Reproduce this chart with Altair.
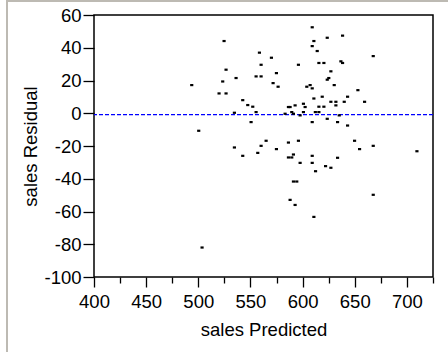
import altair as alt
import pandas as pd

# values
predicted = [493.7, 500.4, 503.6, 524.7, 526.6, 523.4, 519.9, 526.6, 536.2, 534.6,
             534.6, 542.6, 542.6, 547.4, 552.2, 550.6, 555.4, 555.4, 560.2, 558.6,
             560.2, 557.0, 560.2, 565.0, 570.1, 574.9, 571.7, 576.5, 574.9, 583.2,
             586.4, 588.0, 589.6, 591.2, 592.8, 586.4, 586.4, 589.6, 591.2, 591.2,
             594.4, 588.0, 592.8, 596.0, 597.6, 596.0, 597.6, 600.8, 602.4, 600.8,
             604.0, 607.2, 609.2, 609.2, 610.8, 609.2, 614.0, 615.6, 620.4, 610.8,
             618.8, 615.6, 620.4, 612.2, 615.6, 609.2, 609.2, 609.2, 612.4, 610.8,
             622.0, 627.1, 623.6, 623.6, 627.1, 625.1, 623.6, 630.3, 627.1, 631.9,
             631.9, 633.5, 635.1, 633.5, 636.7, 638.3, 638.3, 639.9, 643.1, 643.1,
             649.8, 654.6, 653.0, 659.4, 667.7, 667.7, 667.7, 709.6]
residual = [17.2, -10.7, -82.0, 44.1, 26.6, 19.4, 12.1, 12.1, 21.5, 0.3,
            -20.9, 8.0, -26.0, 5.0, 4.0, -5.4, 0.7, 22.5, 22.5, 37.0,
            29.6, -24.2, -19.9, -16.8, 33.9, 24.5, 18.4, 16.2, -21.9, -0.3,
            3.8, 3.8, 0.7, -0.3, 4.8, -17.9, -27.0, -27.0, -25.2, -41.7,
            -41.7, -52.9, -56.0, -16.8, -30.3, 29.6, -1.3, 5.8, 3.8, 0.7,
            16.2, 17.2, 15.2, 52.5, 44.1, 41.0, 38.0, 30.7, 30.7, 9.0,
            10.1, 4.0, 4.0, 0.7, 0.7, -5.4, -26.0, -30.3, -35.4, -63.3,
            -32.3, -33.3, -3.4, 46.1, 25.6, 21.5, 20.5, 17.2, 7.0, 7.0,
            4.8, -5.4, -1.3, -27.2, 31.7, 30.7, 47.4, 7.0, 10.1, -7.5,
            -16.8, -21.9, 14.1, 7.0, 34.9, -19.9, -49.8, -23.2]
residual_mean = [-0.8]

x_ticks = [400, 425, 450, 475, 500, 525, 550, 575, 600, 625, 650, 675, 700, 725]
y_ticks = [-100, -80, -60, -40, -20, 0, 20, 40, 60]

FONT = "Liberation Sans"
FS = 18.5
W, H = 339, 262
PAD_L, PAD_T = 94, 15

df = pd.DataFrame({"pred": predicted, "res": residual})
mean_df = pd.DataFrame({"m": residual_mean})

x_scale = alt.Scale(domain=[400, 725], nice=False, zero=False)
y_scale = alt.Scale(domain=[-100, 60], nice=False, zero=False)

x_axis = alt.Axis(
    title="sales Predicted", values=x_ticks,
    labelExpr="datum.value % 50 == 0 ? datum.label : ''",
    tickSize={"condition": {"test": "datum.value % 50 == 0", "value": 10}, "value": 6},
    tickColor="black", tickWidth=1.3, domain=False, grid=False,
    labelFont=FONT, labelFontSize=FS, labelColor="black", labelPadding=5,
    labelFlush=False, labelOverlap=False, labelBound=False,
    titleFont=FONT, titleFontSize=FS, titleFontWeight="normal", titleColor="black",
    titlePadding=10,
)
y_axis = alt.Axis(
    title="sales Residual", values=y_ticks,
    labelExpr="datum.value < 0 ? '-' + abs(datum.value) : '' + datum.value",
    tickSize=11, tickColor="black", tickWidth=1.3, domain=False, grid=False,
    labelFont=FONT, labelFontSize=FS, labelColor="black", labelPadding=2,
    labelFlush=False, labelOverlap=False, labelBound=False,
    titleFont=FONT, titleFontSize=FS, titleFontWeight="normal", titleColor="black",
    titlePadding=3,
)

points = alt.Chart(df).mark_point(
    shape="M-1,-0.7H1V0.7H-1Z", filled=True, color="black", opacity=1,
    size=10, strokeWidth=0,
).encode(
    x=alt.X("pred:Q", scale=x_scale, axis=x_axis),
    y=alt.Y("res:Q", scale=y_scale, axis=y_axis),
)

mean_line = alt.Chart(mean_df).mark_rule(
    color="#0000ff", strokeDash=[4, 2], strokeWidth=1.3,
).encode(y=alt.Y("m:Q", scale=y_scale, axis=y_axis))

# light grey panel border of the window the chart sits in
border_left = alt.Chart(mean_df).mark_rule(color="#bdbab3", strokeWidth=2).encode(
    x=alt.value(7 - PAD_L), y=alt.value(-PAD_T), y2=alt.value(352 - PAD_T))
border_top = alt.Chart(mean_df).mark_rule(color="#bdbab3", strokeWidth=2).encode(
    y=alt.value(1 - PAD_T), x=alt.value(7 - PAD_L), x2=alt.value(448 - PAD_L))

chart = alt.layer(mean_line, points, border_left, border_top).properties(
    width=W, height=H,
    autosize=alt.AutoSizeParams(type="none"),
    padding={"left": PAD_L, "top": PAD_T, "right": 448 - PAD_L - W, "bottom": 352 - PAD_T - H},
    background="white",
).configure_view(stroke="black", strokeWidth=1.5)

chart.save("out.html", embed_options={"renderer": "svg", "actions": False})
